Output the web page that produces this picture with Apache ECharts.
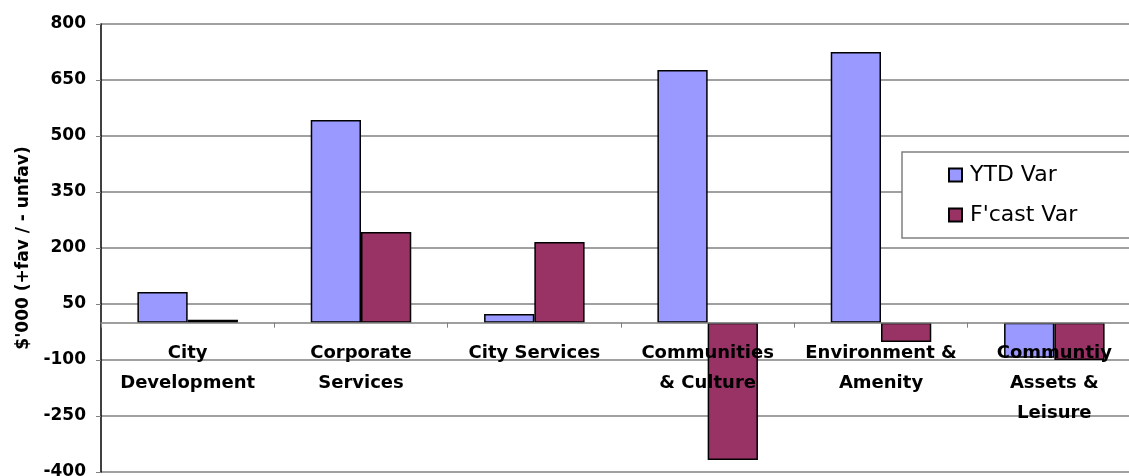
<!DOCTYPE html>
<html>
<head>
<meta charset="utf-8">
<script src="https://cdn.jsdelivr.net/npm/echarts@6/dist/echarts.min.js"></script>
<style>
  html, body { margin: 0; padding: 0; background: #fff; }
  #chart { width: 1129px; height: 476px; }
</style>
</head>
<body>
<div id="chart"></div>
<script>
const categories = ['City\nDevelopment', 'Corporate\nServices', 'City Services', 'Communities\n& Culture', 'Environment &\nAmenity', 'Communtiy\nAssets &\nLeisure']
const ytdVar = [82, 543, 23, 677, 725, -94]
const fcastVar = [8, 243, 216, -368, -52, -100]
const yMin = -400
const yMax = 800
const yStep = 150

const gridTop = 24
const gridHeight = 448
// 分类轴放在 0 值处
const zeroOffset = -gridHeight * (0 - yMin) / (yMax - yMin)

const chart = echarts.init(document.getElementById('chart'))
const option = {
  animation: false,
  textStyle: { fontFamily: 'DejaVu Sans' },
  grid: {
    left: 101,
    top: gridTop,
    width: 1040,
    height: gridHeight,
    containLabel: false,
    outerBoundsMode: 'none'
  },
  legend: {
    orient: 'vertical',
    left: 902,
    top: 152,
    padding: [12, 200, 12, 46],
    itemGap: 18,
    itemWidth: 13,
    itemHeight: 13,
    borderColor: '#808080',
    borderWidth: 1.5,
    backgroundColor: '#fff',
    icon: 'rect',
    textStyle: {
      fontFamily: 'DejaVu Sans',
      fontSize: 22,
      color: '#000',
      padding: [0, 0, 0, 3]
    },
    data: ['YTD Var', "F'cast Var"]
  },
  xAxis: {
    type: 'category',
    data: categories,
    z: 5,
    offset: zeroOffset,
    axisLine: { onZero: false, lineStyle: { color: '#808080', width: 1.5 } },
    axisTick: { show: true, length: 5, lineStyle: { color: '#808080' } },
    axisLabel: {
      interval: 0,
      margin: 16,
      fontFamily: 'DejaVu Sans',
      fontWeight: 'bold',
      fontSize: 18,
      lineHeight: 30,
      color: '#000'
    },
    splitLine: { show: false }
  },
  yAxis: {
    type: 'value',
    min: yMin,
    max: yMax,
    interval: yStep,
    name: "$'000 (+fav / - unfav)",
    nameLocation: 'middle',
    nameGap: 68,
    nameTextStyle: {
      fontFamily: 'DejaVu Sans',
      fontWeight: 'bold',
      fontSize: 17,
      color: '#000'
    },
    axisLine: { show: true, lineStyle: { color: '#000', width: 1.5 } },
    axisTick: { show: true, length: 5, lineStyle: { color: '#808080' } },
    axisLabel: {
      margin: 15,
      fontFamily: 'DejaVu Sans',
      fontWeight: 'bold',
      fontSize: 17,
      color: '#000'
    },
    splitLine: { show: true, lineStyle: { color: '#808080', width: 1.5 } }
  },
  series: [
    {
      name: 'YTD Var',
      type: 'bar',
      data: ytdVar,
      barGap: '0%',
      barCategoryGap: '42%',
      itemStyle: { color: '#9999FF', borderColor: '#000', borderWidth: 1.5 }
    },
    {
      name: "F'cast Var",
      type: 'bar',
      data: fcastVar,
      itemStyle: { color: '#993366', borderColor: '#000', borderWidth: 1.5 }
    }
  ]
}
chart.setOption(option)
</script>
</body>
</html>
